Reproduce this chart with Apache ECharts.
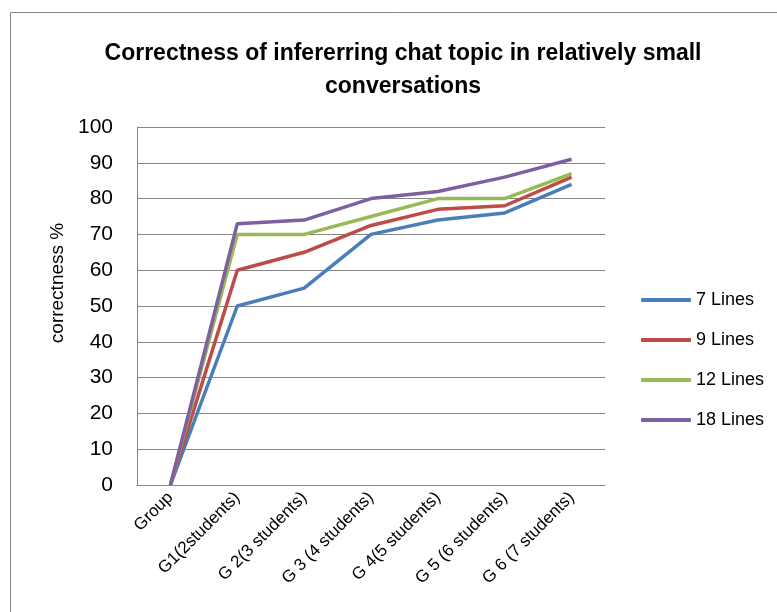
<!DOCTYPE html>
<html>
<head>
<meta charset="utf-8">
<script src="https://cdn.jsdelivr.net/npm/echarts@6/dist/echarts.min.js"></script>
<style>
  html, body { margin: 0; padding: 0; background: #fff; }
  #chart { width: 777px; height: 612px; }
</style>
</head>
<body>
<div id="chart"></div>
<script>
const categories = ['Group', 'G1(2students)', 'G 2(3 students)', 'G 3 (4 students)', 'G 4(5 students)', 'G 5 (6 students)', 'G 6 (7 students)']
const lines7 = [0, 50, 55, 70, 74, 76, 84]
const lines9 = [0, 60, 65, 72.5, 77, 78, 86]
const lines12 = [0, 70, 70, 75, 80, 80, 87]
const lines18 = [0, 73, 74, 80, 82, 86, 91]
const seriesNames = ['7 Lines', '9 Lines', '12 Lines', '18 Lines']
const colors = ['#4a7ebb', '#be4b48', '#98b954', '#7d60a0']

const font = '"Liberation Sans", sans-serif'
const chart = echarts.init(document.getElementById('chart'), null, { renderer: 'canvas' })

const mk = (name, data, color) => ({
  name,
  type: 'line',
  data,
  symbol: 'none',
  lineStyle: { color, width: 3.5 },
  itemStyle: { color },
})

chart.setOption({
  backgroundColor: '#ffffff',
  animation: false,
  title: {
    text: 'Correctness of infererring chat topic in relatively small\nconversations',
    left: 398,
    textAlign: 'center',
    top: 32,
    textStyle: { fontFamily: font, fontWeight: 'bold', fontSize: 23, color: '#000', lineHeight: 33 },
  },
  graphic: [{
    type: 'rect',
    shape: { x: 10.5, y: 12.5, width: 800, height: 700 },
    style: { fill: 'none', stroke: '#868686', lineWidth: 1 },
    silent: true,
  }],
  legend: {
    orient: 'vertical',
    left: 636,
    top: 286,
    itemWidth: 50,
    itemHeight: 4,
    itemGap: 22,
    icon: 'roundRect',
    textStyle: { fontFamily: font, fontSize: 18, color: '#000', padding: [0, 0, 0, 0] },
    data: seriesNames,
  },
  grid: { left: 137, right: 172, top: 127, bottom: 127 },
  xAxis: {
    type: 'category',
    data: categories,
    boundaryGap: true,
    axisLine: { lineStyle: { color: '#868686', width: 1 } },
    axisTick: { show: false },
    axisLabel: { rotate: 45, interval: 0, fontFamily: font, fontSize: 17, color: '#000', margin: 10 },
  },
  yAxis: {
    type: 'value',
    min: 0,
    max: 100,
    interval: 10,
    name: 'correctness %',
    nameLocation: 'middle',
    nameRotate: 90,
    nameGap: 65,
    nameTextStyle: { fontFamily: font, fontSize: 19, color: '#000', padding: [0, 0, 0, 46] },
    axisLine: { show: true, lineStyle: { color: '#868686', width: 1 } },
    axisTick: { show: false },
    axisLabel: { fontFamily: font, fontSize: 21, color: '#000', margin: 24 },
    splitLine: { lineStyle: { color: '#868686', width: 1 } },
  },
  series: [
    mk(seriesNames[0], lines7, colors[0]),
    mk(seriesNames[1], lines9, colors[1]),
    mk(seriesNames[2], lines12, colors[2]),
    mk(seriesNames[3], lines18, colors[3]),
  ],
})
</script>
</body>
</html>
